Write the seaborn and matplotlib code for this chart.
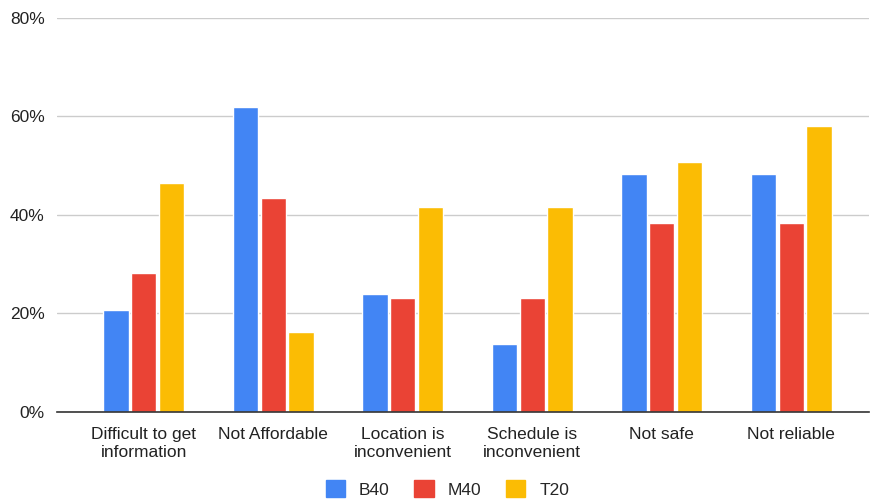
import matplotlib
matplotlib.use("Agg")
import matplotlib.pyplot as plt
import seaborn as sns
import pandas as pd
from matplotlib.ticker import PercentFormatter

categories = ["Difficult to get\ninformation", "Not Affordable", "Location is\ninconvenient",
              "Schedule is\ninconvenient", "Not safe", "Not reliable"]
groups = ["B40", "M40", "T20"]
b40 = [20.7, 62.0, 23.8, 13.7, 48.2, 48.2]
m40 = [28.1, 43.4, 23.0, 23.0, 38.3, 38.3]
t20 = [46.4, 16.1, 41.6, 41.6, 50.8, 58.1]
colors = ["#4285F4", "#EA4335", "#FBBC04"]

rows = []
for g, vals in zip(groups, [b40, m40, t20]):
    for c, v in zip(categories, vals):
        rows.append({"reason": c, "group": g, "share": v})
df = pd.DataFrame(rows)

sns.set_theme(style="white")
plt.rcParams["font.family"] = ["Liberation Sans", "DejaVu Sans"]

fig = plt.figure(figsize=(8.72, 5.03), dpi=100)
ax = fig.add_axes([57 / 872, 1 - 411.5 / 503, (869 - 57) / 872, (411.5 - 18) / 503])

sns.barplot(data=df, x="reason", y="share", hue="group", order=categories,
            hue_order=groups, palette=colors, width=0.64, gap=0.08,
            saturation=1, ax=ax, legend=False, errorbar=None)

ax.set_ylim(0, 80)
ax.set_xlim(-0.67, 5.6)
ax.set_yticks([0, 20, 40, 60, 80])
ax.yaxis.set_major_formatter(PercentFormatter(decimals=0))
ax.grid(axis="y", color="#cccccc", linewidth=1)
ax.set_axisbelow(True)
for s in ["top", "right", "left"]:
    ax.spines[s].set_visible(False)
ax.spines["bottom"].set_color("#333333")
ax.spines["bottom"].set_linewidth(1.2)
ax.set_xlabel("")
ax.set_ylabel("")
ax.tick_params(axis="both", length=0, labelsize=12.5, colors="#222222")
ax.tick_params(axis="y", pad=9)
ax.tick_params(axis="x", pad=11)
for lbl in ax.get_xticklabels():
    lbl.set_linespacing(1.25)

handles = [plt.Rectangle((0, 0), 1, 1, color=c) for c in colors]
fig.legend(handles, groups, loc="center", bbox_to_anchor=(0.513, 1 - 489 / 503),
           ncol=3, frameon=False, fontsize=12.5, handlelength=1.1, handleheight=1.1,
           columnspacing=1.45, handletextpad=0.8)

fig.savefig("out.png", dpi=100)
